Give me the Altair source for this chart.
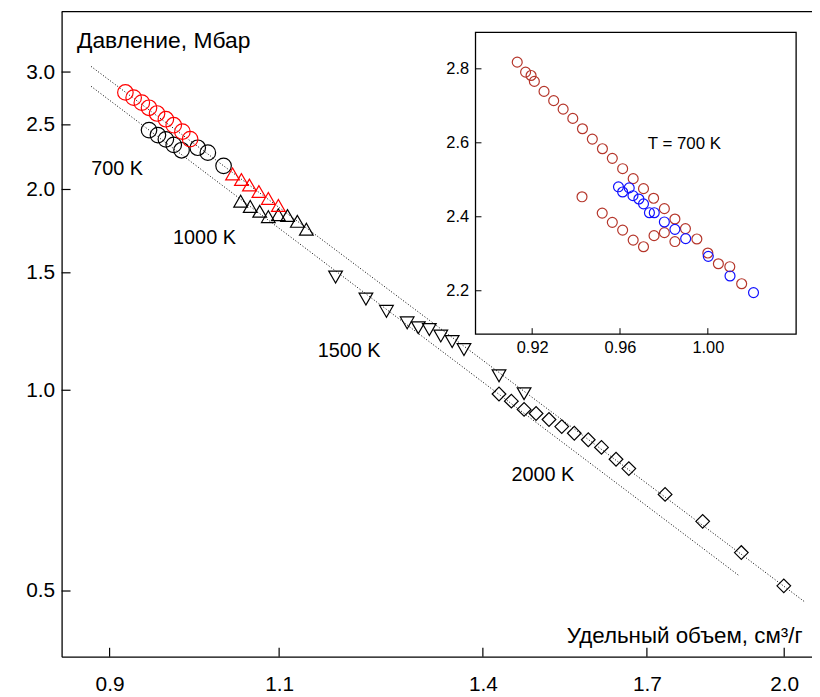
import altair as alt
import pandas as pd

# ---------------- main panel data (log-log) ----------------
red_circle_v = [0.917, 0.926, 0.935, 0.943, 0.952, 0.962, 0.971, 0.981, 0.990]
red_circle_p = [2.796, 2.746, 2.699, 2.652, 2.600, 2.549, 2.497, 2.442, 2.380]

black_circle_v = [0.943, 0.953, 0.962, 0.971, 0.980, 0.999, 1.011, 1.030]
black_circle_p = [2.455, 2.413, 2.378, 2.333, 2.290, 2.310, 2.271, 2.170]

red_tri_v = [1.041, 1.052, 1.062, 1.074, 1.086, 1.099]
red_tri_p = [2.110, 2.070, 2.031, 1.986, 1.939, 1.893]

black_tri_v = [1.051, 1.063, 1.075, 1.086, 1.099, 1.111, 1.124, 1.136]
black_tri_p = [1.921, 1.886, 1.855, 1.821, 1.833, 1.828, 1.792, 1.744]

down_tri_v = [1.176, 1.219, 1.249, 1.280, 1.297, 1.314, 1.332, 1.350, 1.369, 1.427, 1.470]
down_tri_p = [1.478, 1.370, 1.313, 1.262, 1.241, 1.233, 1.206, 1.183, 1.151, 1.051, 0.988]

diamond_v = [1.427, 1.448, 1.470, 1.491, 1.514, 1.537, 1.560, 1.586, 1.611, 1.639,
             1.664, 1.737, 1.816, 1.901, 1.999]
diamond_p = [0.987, 0.963, 0.936, 0.923, 0.904, 0.882, 0.862, 0.843, 0.821, 0.788,
             0.763, 0.698, 0.636, 0.571, 0.509]

fit_upper_v = [0.8805, 2.0476]
fit_upper_p = [3.059, 0.4824]
fit_lower_v = [0.8805, 1.897]
fit_lower_p = [2.856, 0.5266]

temp_labels = ["700 K", "1000 K", "1500 K", "2000 K"]
temp_label_v = [0.908, 1.007, 1.195, 1.503]
temp_label_p = [2.144, 1.690, 1.143, 0.745]

main_x_ticks = [0.9, 1.1, 1.4, 1.7, 2.0]
main_y_ticks = [0.5, 1.0, 1.5, 2.0, 2.5, 3.0]

# ---------------- inset data (linear, T = 700 K) ----------------
inset_red_v = [0.9132, 0.9170, 0.9195, 0.9210, 0.9254, 0.9298, 0.9341, 0.9385, 0.9429,
               0.9474, 0.9520, 0.9565, 0.9612, 0.9660, 0.9707, 0.9753, 0.9802, 0.9850,
               0.9898, 0.9950, 1.0000, 1.0048, 1.0100, 1.0154,
               0.9427, 0.9519, 0.9565, 0.9612, 0.9660, 0.9707, 0.9755, 0.9802, 0.9850]
inset_red_p = [2.818, 2.791, 2.782, 2.766, 2.739, 2.714, 2.691, 2.666, 2.638,
               2.610, 2.584, 2.558, 2.530, 2.503, 2.476, 2.450, 2.422, 2.394,
               2.368, 2.340, 2.302, 2.273, 2.265, 2.219,
               2.454, 2.410, 2.385, 2.364, 2.337, 2.319, 2.349, 2.357, 2.333]

inset_blue_v = [0.9593, 0.9612, 0.9642, 0.9659, 0.9686, 0.9707, 0.9734, 0.9756,
                0.9802, 0.9850, 0.9899, 1.0002, 1.0101, 1.0208]
inset_blue_p = [2.481, 2.467, 2.478, 2.457, 2.448, 2.435, 2.411, 2.411,
                2.386, 2.366, 2.341, 2.293, 2.240, 2.195]

inset_x_ticks = [0.92, 0.96, 1.00]
inset_y_ticks = [2.2, 2.4, 2.6, 2.8]

# ---------------- layout ----------------
W, H = 756, 650
FONT = "Liberation Sans"
IN_L, IN_R, IN_T, IN_B = 417, 740, 21, 325

x_main = alt.Scale(type="log", domain=[0.8503, 2.0669], nice=False)
y_main = alt.Scale(type="log", domain=[0.3985, 3.697], nice=False)

x_axis_main = alt.Axis(values=main_x_ticks, format=".1f", ticks=False, tickSize=0, grid=False,
                       domain=True, domainColor="black", domainWidth=1.3,
                       labelFontSize=21, labelPadding=17, labelColor="black", labelFont=FONT,
                       title="Удельный объем, см³/г", titleFont=FONT, titleFontSize=22.5,
                       titleFontWeight="normal", titleColor="black",
                       titleX=746, titleY=-21, titleAlign="right", titleBaseline="middle")
y_axis_main = alt.Axis(values=main_y_ticks, format=".1f", ticks=False, tickSize=0, grid=False,
                       domain=True, domainColor="black", domainWidth=1.3,
                       labelFontSize=21, labelPadding=7, labelColor="black", labelFont=FONT,
                       title="Давление, Мбар", titleFont=FONT, titleFontSize=23,
                       titleFontWeight="normal", titleColor="black", titleAngle=0,
                       titleX=15, titleY=29, titleAlign="left", titleBaseline="middle")


def mx():
    return alt.X("v:Q", scale=x_main, axis=x_axis_main)


def my():
    return alt.Y("p:Q", scale=y_main, axis=y_axis_main)


def main_pts(v, p, shape, color, size):
    return alt.Chart(pd.DataFrame({"v": v, "p": p})).mark_point(
        shape=shape, color=color, size=size, filled=False, strokeWidth=1.2, opacity=1
    ).encode(x=mx(), y=my())


fit_df = pd.DataFrame({
    "v": fit_upper_v + fit_lower_v,
    "p": fit_upper_p + fit_lower_p,
    "line": ["upper"] * 2 + ["lower"] * 2,
})
fits = alt.Chart(fit_df).mark_line(color="black", strokeDash=[1, 2], strokeWidth=1).encode(
    x=mx(), y=my(), detail="line:N")

xticks_main = alt.Chart(pd.DataFrame({"v": main_x_ticks})).mark_rule(
    color="black", strokeWidth=1.2).encode(x=mx(), y=alt.value(H), y2=alt.value(H - 9))
yticks_main = alt.Chart(pd.DataFrame({"p": main_y_ticks})).mark_rule(
    color="black", strokeWidth=1.2).encode(y=my(), x=alt.value(0), x2=alt.value(9))
top_border = alt.Chart(pd.DataFrame({"a": [0]})).mark_rule(
    color="black", strokeWidth=1.3).encode(x=alt.value(0), x2=alt.value(W), y=alt.value(0))

temp_text = alt.Chart(pd.DataFrame({"v": temp_label_v, "p": temp_label_p, "t": temp_labels})).mark_text(
    font=FONT, fontSize=20, color="black", align="center", baseline="middle"
).encode(x=mx(), y=my(), text="t:N")

main = alt.layer(
    fits,
    main_pts(black_circle_v, black_circle_p, "circle", "black", 245),
    main_pts(red_circle_v, red_circle_p, "circle", "#ff0000", 245),
    main_pts(black_tri_v, black_tri_p, "triangle-up", "black", 190),
    main_pts(red_tri_v, red_tri_p, "triangle-up", "#ff0000", 190),
    main_pts(down_tri_v, down_tri_p, "triangle-down", "black", 190),
    main_pts(diamond_v, diamond_p, "diamond", "black", 190),
    temp_text,
    xticks_main,
    yticks_main,
    top_border,
)

# ---------------- inset ----------------
x_in = alt.Scale(domain=[0.8942, 1.0402], range=[IN_L, IN_R], nice=False, zero=False)
y_in = alt.Scale(domain=[2.0827, 2.8985], range=[IN_B, IN_T], nice=False, zero=False)

x_axis_in = alt.Axis(orient="bottom", offset=-(H - IN_B), values=inset_x_ticks, format=".2f",
                     ticks=False, tickSize=0, grid=False, domain=False,
                     labelFontSize=16.5, labelPadding=6, labelColor="black", labelFont=FONT,
                     title="Удельный объем, см³/г", titleFont=FONT, titleFontSize=15,
                     titleFontWeight="normal", titleColor="black",
                     titleX=IN_R - 3, titleY=-12, titleAlign="right", titleBaseline="middle")
y_axis_in = alt.Axis(orient="left", offset=-IN_L, values=inset_y_ticks, format=".1f",
                     ticks=False, tickSize=0, grid=False, domain=False,
                     labelFontSize=16.5, labelPadding=7, labelColor="black", labelFont=FONT,
                     title="Давление, Мбар", titleFont=FONT, titleFontSize=15.5,
                     titleFontWeight="normal", titleColor="black", titleAngle=0,
                     titleX=7, titleY=IN_T + 15, titleAlign="left", titleBaseline="middle")


def ix():
    return alt.X("v:Q", scale=x_in, axis=x_axis_in)


def iy():
    return alt.Y("p:Q", scale=y_in, axis=y_axis_in)


frame = alt.Chart(pd.DataFrame({"a": [0]})).mark_rect(
    fill="white", stroke="black", strokeWidth=1.3).encode(
    x=alt.value(IN_L), x2=alt.value(IN_R), y=alt.value(IN_T), y2=alt.value(IN_B))


def inset_pts(v, p, color):
    return alt.Chart(pd.DataFrame({"v": v, "p": p})).mark_point(
        shape="circle", color=color, size=100, filled=False, strokeWidth=1.2, opacity=1
    ).encode(x=ix(), y=iy())


xticks_in = alt.Chart(pd.DataFrame({"v": inset_x_ticks})).mark_rule(
    color="black", strokeWidth=1).encode(x=ix(), y=alt.value(IN_B), y2=alt.value(IN_B - 6))
yticks_in = alt.Chart(pd.DataFrame({"p": inset_y_ticks})).mark_rule(
    color="black", strokeWidth=1).encode(y=iy(), x=alt.value(IN_L), x2=alt.value(IN_L + 6))

t_label = alt.Chart(pd.DataFrame({"v": [0.9893], "p": [2.598], "t": ["T = 700 K"]})).mark_text(
    font=FONT, fontSize=17, color="black", align="center", baseline="middle"
).encode(x=ix(), y=iy(), text="t:N")

inset = alt.layer(
    frame,
    inset_pts(inset_red_v, inset_red_p, "#b5362b"),
    inset_pts(inset_blue_v, inset_blue_p, "#1010ff"),
    xticks_in,
    yticks_in,
    t_label,
)

chart = alt.layer(main, inset).resolve_scale(
    x="independent", y="independent"
).properties(
    width=W, height=H,
    autosize=alt.AutoSizeParams(type="none"),
    padding={"left": 54, "top": 1, "right": 0, "bottom": 38},
).configure_view(stroke=None)

chart.save("out.html", embed_options={"renderer": "svg", "actions": False})
